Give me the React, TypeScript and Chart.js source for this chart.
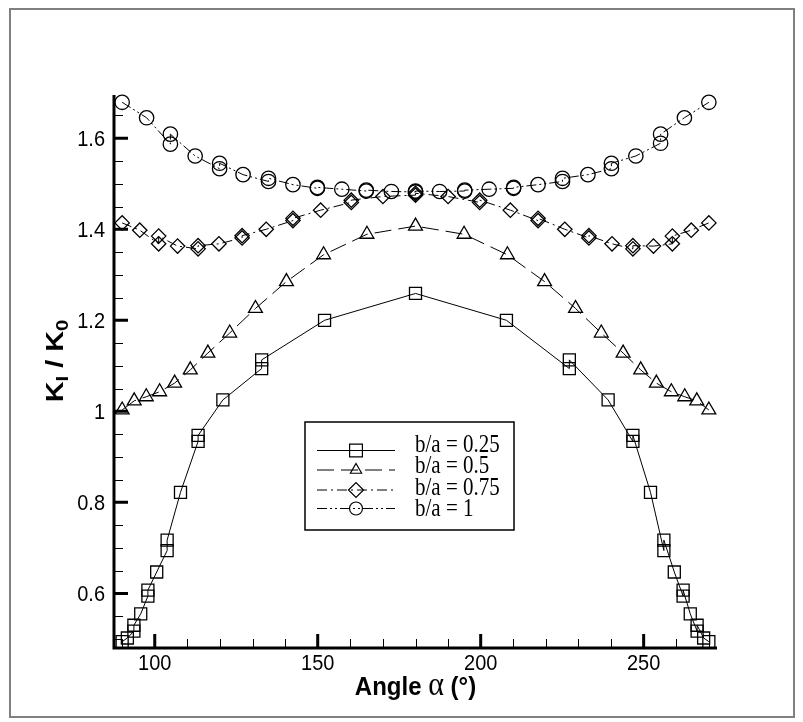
import React, { useEffect, useRef } from 'react';
import { Chart, registerables } from 'chart.js';

Chart.register(...registerables);

// ---------------- data ----------------
const SERIES_LABELS = ['b/a = 0.25', 'b/a = 0.5', 'b/a = 0.75', 'b/a = 1'];

const X_025 = [90, 91.6, 93.6, 93.6, 95.7, 97.9, 97.9, 100.6, 103.8, 103.8, 107.9, 113.3, 113.3, 120.9, 132.8, 132.8, 152.1, 180, 207.9, 227.2, 227.2, 239.1, 246.7, 246.7, 252.1, 256.2, 256.2, 259.4, 262.1, 262.1, 264.3, 266.4, 266.4, 268.4, 270];
const Y_025 = [0.494, 0.502, 0.517, 0.53, 0.555, 0.594, 0.607, 0.647, 0.694, 0.717, 0.822, 0.934, 0.947, 1.025, 1.094, 1.113, 1.2, 1.259, 1.2, 1.094, 1.113, 1.025, 0.934, 0.947, 0.822, 0.694, 0.717, 0.647, 0.594, 0.607, 0.555, 0.517, 0.53, 0.502, 0.494];

const X_05 = [90, 93.7, 97.4, 101.5, 106.1, 110.9, 116.3, 123, 130.9, 140.4, 151.8, 165.1, 180, 194.9, 208.2, 219.6, 229.1, 237, 243.7, 249.1, 253.9, 258.5, 262.6, 266.3, 270];
const Y_05 = [1.003, 1.023, 1.032, 1.043, 1.062, 1.091, 1.128, 1.172, 1.226, 1.285, 1.344, 1.389, 1.407, 1.389, 1.344, 1.285, 1.226, 1.172, 1.128, 1.091, 1.062, 1.043, 1.032, 1.023, 1.003];

const X_075 = [90, 95.4, 101.2, 101.2, 107, 113.3, 113.3, 119.7, 126.8, 126.8, 134.2, 142.4, 142.4, 150.9, 160.3, 160.3, 170, 180, 180, 190, 199.7, 199.7, 209.1, 217.6, 217.6, 225.8, 233.2, 233.2, 240.3, 246.7, 246.7, 253, 258.8, 258.8, 264.6, 270];
const Y_075 = [1.414, 1.398, 1.368, 1.385, 1.363, 1.357, 1.364, 1.368, 1.381, 1.386, 1.4, 1.419, 1.424, 1.442, 1.459, 1.464, 1.472, 1.475, 1.479, 1.472, 1.459, 1.464, 1.442, 1.419, 1.424, 1.4, 1.381, 1.386, 1.368, 1.357, 1.364, 1.363, 1.368, 1.385, 1.398, 1.414];

const X_1 = [90, 97.5, 104.8, 104.8, 112.4, 119.9, 119.9, 127.1, 134.9, 134.9, 142.4, 149.9, 149.9, 157.4, 164.9, 164.9, 172.6, 180, 180, 187.4, 195.1, 195.1, 202.6, 210.1, 210.1, 217.6, 225.1, 225.1, 232.9, 240.1, 240.1, 247.6, 255.2, 255.2, 262.5, 270];
const Y_1 = [1.679, 1.645, 1.587, 1.609, 1.561, 1.533, 1.545, 1.52, 1.505, 1.512, 1.498, 1.49, 1.492, 1.488, 1.484, 1.486, 1.483, 1.482, 1.484, 1.483, 1.484, 1.486, 1.488, 1.49, 1.492, 1.498, 1.505, 1.512, 1.52, 1.533, 1.545, 1.561, 1.589, 1.609, 1.645, 1.679];

const X_MIN = 87.5;
const X_MAX = 272.5;
const Y_MIN = 0.48;
const Y_MAX = 1.695;

const X_MAJOR = [100, 150, 200, 250];
const X_MINOR = [90, 110, 120, 130, 140, 160, 170, 180, 190, 210, 220, 230, 240, 260, 270];
const Y_MAJOR = [0.6, 0.8, 1, 1.2, 1.4, 1.6];
const Y_MINOR = [0.5, 0.55, 0.65, 0.7, 0.75, 0.85, 0.9, 0.95, 1.05, 1.1, 1.15, 1.25, 1.3, 1.35, 1.45, 1.5, 1.55, 1.65];

// ---------------- styles ----------------
const STYLES = [
  { dash: [] as number[], point: 'rect', radius: 8.5, lr: 6.4 },
  { dash: [17, 7], point: 'triangle', radius: 8, lr: 6.5 },
  { dash: [10, 4, 2, 4], point: 'rectRot', radius: 7.2, lr: 7.5 },
  { dash: [10, 3, 2, 3, 2, 3], point: 'circle', radius: 7.2, lr: 6.5 },
];

const SANS = '"Liberation Sans", Arial, sans-serif';
const SERIF = '"Liberation Serif", "Times New Roman", serif';

function sText(ctx: CanvasRenderingContext2D, text: string, x: number, y: number, font: string, align: CanvasTextAlign, sy: number) {
  ctx.save();
  ctx.font = font;
  ctx.textAlign = align;
  ctx.textBaseline = 'alphabetic';
  ctx.fillStyle = '#000';
  ctx.translate(x, y);
  ctx.scale(1, sy);
  ctx.fillText(text, 0, 0);
  ctx.restore();
}

function drawMarker(ctx: CanvasRenderingContext2D, kind: string, x: number, y: number, r: number) {
  ctx.beginPath();
  if (kind === 'rect') {
    ctx.rect(x - r, y - r, 2 * r, 2 * r);
  } else if (kind === 'triangle') {
    const h = r;
    ctx.moveTo(x, y - h);
    ctx.lineTo(x + Math.sin(Math.PI * 2 / 3) * h, y + h / 2);
    ctx.lineTo(x - Math.sin(Math.PI * 2 / 3) * h, y + h / 2);
    ctx.closePath();
  } else if (kind === 'rectRot') {
    ctx.moveTo(x - r, y);
    ctx.lineTo(x, y - r);
    ctx.lineTo(x + r, y);
    ctx.lineTo(x, y + r);
    ctx.closePath();
  } else {
    ctx.arc(x, y, r, 0, Math.PI * 2);
  }
  ctx.stroke();
}

const customPlugin = {
  id: 'customAxes',
  beforeDatasetsDraw(chart: any) {
    const { ctx, chartArea: a, scales } = chart;
    const xs = scales.x;
    const ys = scales.y;
    ctx.save();
    // outer frame
    ctx.strokeStyle = '#808080';
    ctx.lineWidth = 2;
    ctx.strokeRect(10, 9, 784, 708);

    ctx.strokeStyle = '#000';
    ctx.lineCap = 'butt';
    // minor ticks
    ctx.lineWidth = 1;
    ctx.beginPath();
    X_MINOR.forEach((v) => {
      const p = Math.round(xs.getPixelForValue(v)) + 0.5;
      ctx.moveTo(p, a.bottom);
      ctx.lineTo(p, a.bottom - 9);
    });
    Y_MINOR.forEach((v) => {
      const p = Math.round(ys.getPixelForValue(v)) + 0.5;
      ctx.moveTo(a.left, p);
      ctx.lineTo(a.left + 9, p);
    });
    ctx.stroke();
    // major ticks
    ctx.lineWidth = 3;
    ctx.beginPath();
    X_MAJOR.forEach((v) => {
      const p = xs.getPixelForValue(v);
      ctx.moveTo(p, a.bottom);
      ctx.lineTo(p, a.bottom - 14);
    });
    Y_MAJOR.forEach((v) => {
      const p = ys.getPixelForValue(v);
      ctx.moveTo(a.left, p);
      ctx.lineTo(a.left + 14, p);
    });
    ctx.stroke();
    // axis lines
    ctx.lineWidth = 3;
    ctx.beginPath();
    ctx.moveTo(a.left, a.top);
    ctx.lineTo(a.left, a.bottom + 1.5);
    ctx.moveTo(a.left - 1.5, a.bottom);
    ctx.lineTo(a.right, a.bottom);
    ctx.stroke();

    // tick labels
    const tf = `20px ${SANS}`;
    X_MAJOR.forEach((v) => {
      sText(ctx, String(v), xs.getPixelForValue(v), a.bottom + 22, tf, 'center', 1.12);
    });
    Y_MAJOR.forEach((v) => {
      sText(ctx, String(v), a.left - 9, ys.getPixelForValue(v) + 8, tf, 'right', 1.12);
    });
    ctx.restore();
  },
  afterDraw(chart: any) {
    const { ctx, chartArea: a } = chart;
    ctx.save();
    // ----- x title -----
    const bold = `bold 24px ${SANS}`;
    const alphaF = `30px ${SERIF}`;
    const parts = [
      { t: 'Angle', f: bold },
      { t: ' ', f: bold },
      { t: 'α', f: alphaF },
      { t: ' ', f: bold },
      { t: '(°)', f: bold },
    ];
    let total = 0;
    parts.forEach((p) => { ctx.font = p.f; total += ctx.measureText(p.t).width; });
    let cx = (a.left + a.right) / 2 - total / 2;
    parts.forEach((p) => {
      ctx.font = p.f;
      const w = ctx.measureText(p.t).width;
      sText(ctx, p.t, cx, 695, p.f, 'left', 1.1);
      cx += w;
    });

    // ----- y title (rotated) -----
    const big = `bold 24px ${SANS}`;
    const sub = `bold 17px ${SANS}`;
    const yparts = [
      { t: 'K', f: big, dy: 0 },
      { t: 'I', f: sub, dy: 5 },
      { t: ' / ', f: big, dy: 0 },
      { t: 'K', f: big, dy: 0 },
      { t: '0', f: sub, dy: 5 },
    ];
    const stretch = 1.2;
    let len = 0;
    yparts.forEach((p) => { ctx.font = p.f; len += ctx.measureText(p.t).width; });
    ctx.save();
    ctx.translate(63, 361 + (len * stretch) / 2);
    ctx.rotate(-Math.PI / 2);
    ctx.scale(stretch, 1);
    ctx.fillStyle = '#000';
    ctx.textBaseline = 'alphabetic';
    ctx.textAlign = 'left';
    let tx = 0;
    yparts.forEach((p) => {
      ctx.font = p.f;
      ctx.fillText(p.t, tx, p.dy);
      tx += ctx.measureText(p.t).width;
    });
    ctx.restore();

    // ----- legend -----
    ctx.strokeStyle = '#000';
    ctx.lineWidth = 1.5;
    ctx.strokeRect(305, 422, 209, 108);
    const rowY = [450.5, 470, 490, 508.5];
    const textY = [451.5, 473, 494.5, 516];
    const lf = `21px ${SERIF}`;
    SERIES_LABELS.forEach((lab, i) => {
      const st = STYLES[i];
      ctx.save();
      ctx.lineWidth = 1;
      ctx.strokeStyle = '#000';
      ctx.setLineDash(st.dash);
      ctx.lineDashOffset = 0;
      ctx.beginPath();
      ctx.moveTo(317, rowY[i]);
      ctx.lineTo(395, rowY[i]);
      ctx.stroke();
      ctx.setLineDash([]);
      ctx.lineWidth = 1.2;
      drawMarker(ctx, st.point, 356, rowY[i], st.lr);
      ctx.restore();
      sText(ctx, lab, 415, textY[i], lf, 'left', 1.2);
    });
    ctx.restore();
  },
};

function mk(xs: number[], ys: number[]) {
  return xs.map((x, i) => ({ x, y: ys[i] }));
}

export default function App() {
  const ref = useRef<HTMLCanvasElement | null>(null);
  useEffect(() => {
    if (!ref.current) return;
    const sets = [
      mk(X_025, Y_025),
      mk(X_05, Y_05),
      mk(X_075, Y_075),
      mk(X_1, Y_1),
    ];
    const chart = new Chart(ref.current, {
      type: 'line',
      data: {
        datasets: sets.map((d, i) => ({
          label: SERIES_LABELS[i],
          data: d,
          borderColor: '#000',
          borderWidth: 1,
          borderDash: STYLES[i].dash,
          tension: 0,
          fill: false,
          pointStyle: STYLES[i].point as any,
          pointRadius: STYLES[i].radius,
          pointBorderColor: '#000',
          pointBackgroundColor: 'rgba(0,0,0,0)',
          pointBorderWidth: 1.3,
          clip: false as any,
        })),
      },
      options: {
        animation: false,
        responsive: false,
        maintainAspectRatio: false,
        devicePixelRatio: 1,
        layout: { padding: { top: 95, right: 86, left: 0, bottom: 0 } },
        plugins: { legend: { display: false }, tooltip: { enabled: false } },
        scales: {
          x: {
            type: 'linear',
            min: X_MIN,
            max: X_MAX,
            grid: { display: false, drawTicks: false },
            border: { display: false },
            ticks: { display: false },
            afterFit: (s: any) => { s.height = 74; },
          },
          y: {
            type: 'linear',
            min: Y_MIN,
            max: Y_MAX,
            grid: { display: false, drawTicks: false },
            border: { display: false },
            ticks: { display: false },
            afterFit: (s: any) => { s.width = 114; },
          },
        },
      } as any,
      plugins: [customPlugin],
    });
    return () => chart.destroy();
  }, []);
  return (
    <div style={{ position: 'fixed', left: 0, top: 0, width: 803, height: 722, background: '#fff' }}>
      <canvas ref={ref} width={803} height={722} style={{ display: 'block', width: 803, height: 722 }} />
    </div>
  );
}
